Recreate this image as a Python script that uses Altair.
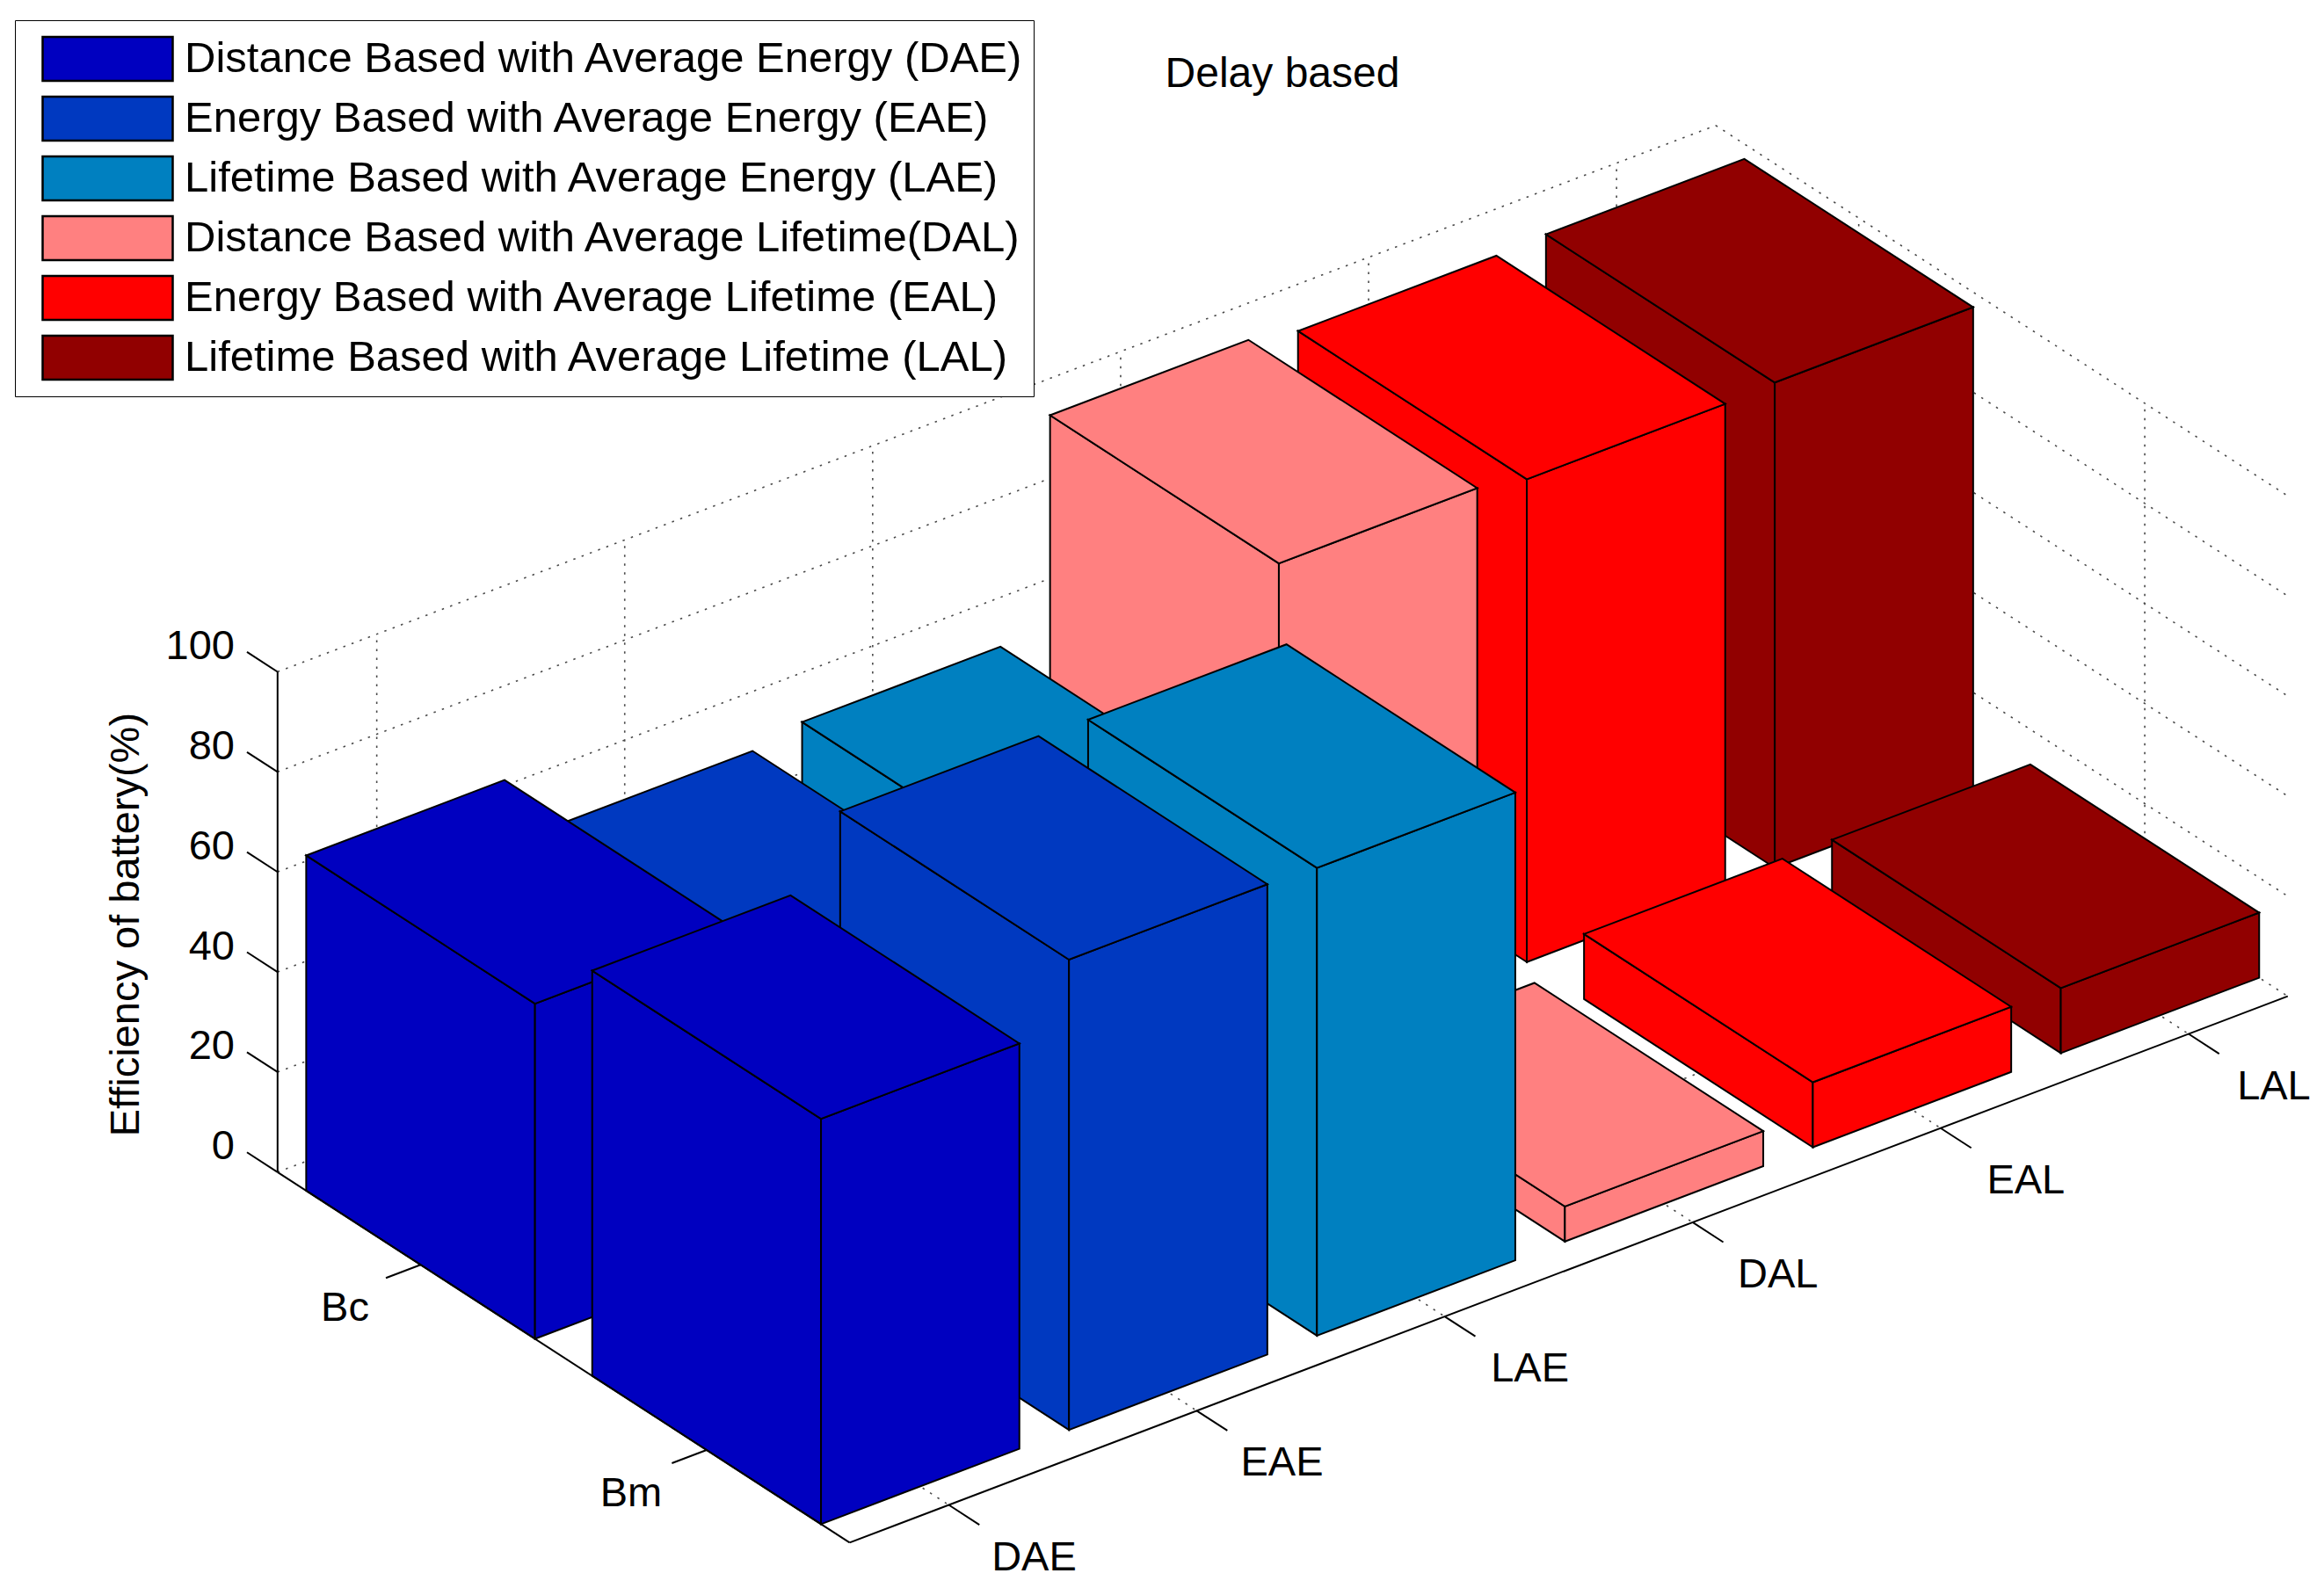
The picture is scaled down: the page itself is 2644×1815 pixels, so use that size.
import altair as alt
import pandas as pd

# ---------------- data ----------------
categories = ["DAE", "EAE", "LAE", "DAL", "EAL", "LAL"]
method_names = [
    "Distance Based with Average Energy (DAE)",
    "Energy Based with Average Energy (EAE)",
    "Lifetime Based with Average Energy (LAE)",
    "Distance Based with Average Lifetime(DAL)",
    "Energy Based with Average Lifetime (EAL)",
    "Lifetime Based with Average Lifetime (LAL)",
]
rows = ["Bc", "Bm"]
bc_values = [67, 54, 56, 98.5, 96.5, 97]
bm_values = [81, 94, 93.5, 7, 13, 13]
z_ticks = [0, 20, 40, 60, 80, 100]
colors = ["#0000C0", "#0039C0", "#0080C0", "#FF8080", "#FF0000", "#910000"]

# ---------------- projection (oblique 3-D view) ----------------
W, H = 2624, 1795
ORIGIN = (307.8, 1325.8)      # screen point of (i=0.6, j=0.5, z=0)
EI = (282.1, -107.2)          # one category step
EJ = (325.4, 210.8)           # one row step
EZ = 5.693                    # one unit of value
I0, J0 = 0.6, 0.5
I1, J1 = 6.4, 2.5
ZMAX = 100
HALF = 0.4


def proj(i, j, z):
    x = ORIGIN[0] + (i - I0) * EI[0] + (j - J0) * EJ[0]
    y = ORIGIN[1] + (i - I0) * EI[1] + (j - J0) * EJ[1] - z * EZ
    return x, y


def seg(a, b):
    x, y = proj(*a)
    x2, y2 = proj(*b)
    return {"x": x, "y": y, "x2": x2, "y2": y2}


# bar faces, in back-to-front drawing order
faces = []
bar_id = 0
for r, vals in [(1, bc_values), (2, bm_values)]:
    for c in range(len(categories), 0, -1):
        h = vals[c - 1]
        l, rr, b, f = c - HALF, c + HALF, r - HALF, r + HALF
        polys = {
            "left": [(l, b, 0), (l, f, 0), (l, f, h), (l, b, h)],
            "front": [(l, f, 0), (rr, f, 0), (rr, f, h), (l, f, h)],
            "top": [(l, b, h), (rr, b, h), (rr, f, h), (l, f, h)],
        }
        for fname, pts in polys.items():
            for k, p in enumerate(pts):
                X, Y = proj(*p)
                faces.append({"bar": bar_id, "face": fname, "k": k, "X": X, "Y": Y,
                              "method": method_names[c - 1]})
        bar_id += 1
faces_df = pd.DataFrame(faces)

# grid lines (walls and floor)
grid = []
for c in range(1, len(categories) + 1):
    grid.append(seg((c, J0, 0), (c, J0, ZMAX)))
    grid.append(seg((c, J0, 0), (c, J1, 0)))
for z in z_ticks:
    grid.append(seg((I0, J0, z), (I1, J0, z)))
    grid.append(seg((I1, J0, z), (I1, J1, z)))
for r in range(1, len(rows) + 1):
    grid.append(seg((I1, r, 0), (I1, r, ZMAX)))
    grid.append(seg((I0, r, 0), (I1, r, 0)))
grid_df = pd.DataFrame(grid)

# axis lines and ticks
axes = [
    seg((I0, J0, 0), (I0, J0, ZMAX)),
    seg((I0, J1, 0), (I1, J1, 0)),
    seg((I0, J0, 0), (I0, J1, 0)),
]
for z in z_ticks:
    axes.append(seg((I0, J0, z), (I0, J0 - 0.107, z)))
for c in range(1, len(categories) + 1):
    axes.append(seg((c, J1, 0), (c, J1 + 0.107, 0)))
for r in range(1, len(rows) + 1):
    axes.append(seg((I0, r, 0), (I0 - 0.14, r, 0)))
axes_df = pd.DataFrame(axes)

# tick labels
zlab = pd.DataFrame([dict(zip(("x", "y"), proj(I0, J0 - 0.107, z)), text=str(z)) for z in z_ticks])
clab = pd.DataFrame([dict(zip(("x", "y"), proj(c + 1, J1, 0)), text=t) for c, t in enumerate(categories)])
rlab = pd.DataFrame([dict(zip(("x", "y"), proj(I0, r + 1, 0)), text=t) for r, t in enumerate(rows)])

xs = alt.Scale(domain=[0, W], range=[0, W])
ys = alt.Scale(domain=[0, H], range=[0, H])
FONT = "Liberation Sans"

grid_layer = alt.Chart(grid_df).mark_rule(
    color="#4a4a4a", strokeWidth=1.6, strokeDash=[2.5, 7.5]
).encode(
    x=alt.X("x:Q", scale=xs, axis=None), y=alt.Y("y:Q", scale=ys, axis=None),
    x2="x2:Q", y2="y2:Q",
)

axes_layer = alt.Chart(axes_df).mark_rule(color="black", strokeWidth=2).encode(
    x=alt.X("x:Q", scale=xs, axis=None), y=alt.Y("y:Q", scale=ys, axis=None),
    x2="x2:Q", y2="y2:Q",
)

legend = alt.Legend(
    title=None, orient="none", legendX=9, legendY=15, direction="vertical",
    symbolType="M-1,-0.338L1,-0.338L1,0.338L-1,0.338Z", symbolSize=148 * 148,
    symbolStrokeColor="black", symbolStrokeWidth=2.5, symbolOffset=20,
    labelFont=FONT, labelFontSize=49, labelOffset=12, labelColor="black",
    labelLimit=0, clipHeight=68, rowPadding=0, padding=10,
    strokeColor="black", fillColor="white",
)

bar_layers = []
for b in range(bar_id):
    bar_layers.append(
        alt.Chart(faces_df).transform_filter(alt.datum.bar == b).mark_line(
            filled=True, interpolate="linear-closed", stroke="black",
            strokeWidth=2, strokeJoin="miter"
        ).encode(
            x=alt.X("X:Q", scale=xs, axis=None),
            y=alt.Y("Y:Q", scale=ys, axis=None),
            order=alt.Order("k:Q"),
            detail="face:N",
            fill=alt.Fill("method:N", scale=alt.Scale(domain=method_names, range=colors),
                          legend=legend),
        )
    )


def text_layer(df, **kw):
    return alt.Chart(df).mark_text(font=FONT, color="black", **kw).encode(
        x=alt.X("x:Q", scale=xs, axis=None), y=alt.Y("y:Q", scale=ys, axis=None),
        text="text:N",
    )


zlab_layer = text_layer(zlab, fontSize=47, align="right", baseline="middle", dx=-14, dy=-6)
clab_layer = text_layer(clab, fontSize=47, align="center", baseline="middle", dx=97, dy=60)
rlab_layer = text_layer(rlab, fontSize=47, align="center", baseline="middle", dx=-86, dy=50)

ztitle_x, ztitle_y = proj(I0, J0, ZMAX / 2)
ztitle = alt.Chart(pd.DataFrame({"x": [ztitle_x], "y": [ztitle_y],
                                 "text": ["Efficiency of battery(%)"]})).mark_text(
    font=FONT, fontSize=47, angle=270, align="center", baseline="middle",
    color="black"
).encode(
    x=alt.X("x:Q", scale=xs, axis=None), y=alt.Y("y:Q", scale=ys, axis=None),
    text="text:N",
).transform_calculate(x="datum.x - 172", y="datum.y + 3")

title_layer = alt.Chart(pd.DataFrame({"text": ["Delay based"]})).mark_text(
    font=FONT, fontSize=48, align="center", baseline="middle", color="black"
).encode(x=alt.value(1451), y=alt.value(77), text="text:N")

chart = alt.layer(
    grid_layer, *bar_layers, axes_layer, zlab_layer, clab_layer, rlab_layer,
    ztitle, title_layer,
).properties(
    width=W, height=H, padding=0, autosize=alt.AutoSizeParams(type="none"),
    background="white",
).configure_view(stroke=None)

chart.save("out.html", embed_options={"renderer": "svg", "actions": False})
